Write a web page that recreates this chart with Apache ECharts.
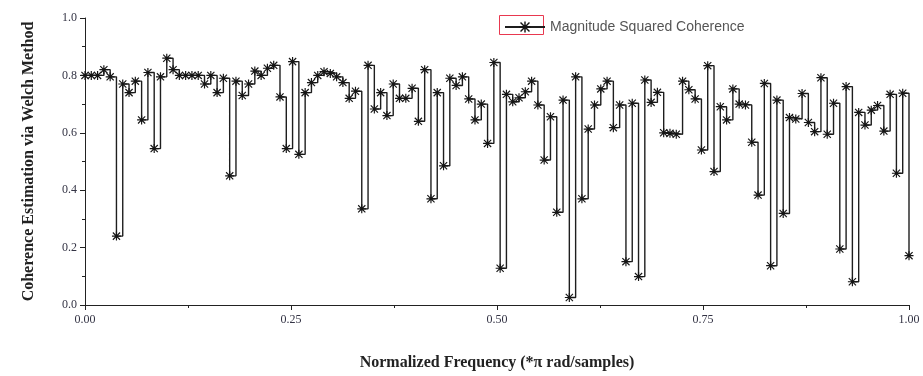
<!DOCTYPE html>
<html>
<head>
    <meta charset="utf-8">
    <title>Magnitude Squared Coherence</title>
    <script src="https://cdn.jsdelivr.net/npm/echarts@6/dist/echarts.min.js"></script>
    <style>
        body { margin: 0; background: #fff; }
        #main { width: 923px; height: 376px; }
    </style>
</head>
<body>
<div id="main"></div>
<script type="text/javascript">
    // coherence values, one per frequency bin
    var coherence = [
        0.80, 0.80, 0.80, 0.82, 0.795, 0.24, 0.77, 0.74, 0.78, 0.645,
        0.81, 0.545, 0.795, 0.86, 0.82, 0.80, 0.80, 0.80, 0.80, 0.77,
        0.80, 0.74, 0.79, 0.45, 0.78, 0.73, 0.77, 0.815, 0.80, 0.825,
        0.835, 0.725, 0.545, 0.848, 0.525, 0.74, 0.775, 0.80, 0.813, 0.807,
        0.795, 0.775, 0.72, 0.745, 0.335, 0.835, 0.683, 0.74, 0.66, 0.77,
        0.72, 0.72, 0.755, 0.64, 0.82, 0.37, 0.74, 0.485, 0.79, 0.765,
        0.795, 0.718, 0.645, 0.70, 0.563, 0.845, 0.128, 0.734, 0.708, 0.722,
        0.743, 0.78, 0.697, 0.505, 0.656, 0.323, 0.714, 0.026, 0.795, 0.37,
        0.613, 0.697, 0.753, 0.78, 0.618, 0.697, 0.151, 0.703, 0.099, 0.784,
        0.706, 0.741, 0.60, 0.598, 0.595, 0.78, 0.75, 0.718, 0.54, 0.834,
        0.465, 0.691, 0.645, 0.753, 0.70, 0.697, 0.567, 0.383, 0.772, 0.137,
        0.714, 0.319, 0.653, 0.648, 0.737, 0.636, 0.604, 0.792, 0.595, 0.703,
        0.195, 0.761, 0.081, 0.671, 0.627, 0.679, 0.695, 0.606, 0.734, 0.459,
        0.738, 0.172
    ];
    var xTicks = ['0.00', '0.25', '0.50', '0.75', '1.00'];
    var yTicks = ['0.0', '0.2', '0.4', '0.6', '0.8', '1.0'];

    // bins are evenly spaced from 0 to 1 (*pi rad/sample)
    var points = [];
    for (var i = 0; i < coherence.length; i++) {
        points.push([i / (coherence.length - 1), coherence[i]]);
    }

    // asterisk marker (vertical, horizontal and two diagonal strokes)
    var star = 'path://M8.7 0L11.3 0L11.3 20L8.7 20Z M0 8.7L20 8.7L20 11.3L0 11.3Z ' +
        'M1.1 2.9L2.9 1.1L18.9 17.1L17.1 18.9Z M17.1 1.1L18.9 2.9L2.9 18.9L1.1 17.1Z';

    var serif = '"Liberation Serif", "Times New Roman", serif';
    var myChart = echarts.init(document.getElementById('main'));
    var option = {
        animation: false,
        backgroundColor: '#fff',
        grid: { left: 85, right: 14, top: 18, bottom: 71 },
        legend: {
            left: 499, top: 15,
            itemWidth: 40, itemHeight: 14, itemGap: 0,
            textStyle: { fontFamily: '"Liberation Sans", Arial, sans-serif', fontSize: 14, color: '#555' },
            data: ['Magnitude Squared Coherence']
        },
        graphic: [{
            type: 'rect',
            left: 497, top: 13,
            shape: { width: 44, height: 19 },
            style: { fill: 'none', stroke: '#e8384f', lineWidth: 1 }
        }],
        xAxis: {
            type: 'value',
            min: 0, max: 1, interval: 0.25,
            name: 'Normalized Frequency (*\u03c0 rad/samples)',
            nameLocation: 'middle', nameGap: 50,
            nameTextStyle: { fontFamily: serif, fontWeight: 'bold', fontSize: 16, color: '#222' },
            axisLine: { lineStyle: { color: '#222', width: 1 } },
            axisTick: { inside: false, length: 5, lineStyle: { color: '#222' } },
            minorTick: { show: true, splitNumber: 2, length: 3, lineStyle: { color: '#222' } },
            splitLine: { show: false },
            axisLabel: {
                margin: 9,
                fontFamily: serif, fontSize: 12, color: '#334',
                formatter: function (v) { return xTicks[Math.round(v / 0.25)]; }
            }
        },
        yAxis: {
            type: 'value',
            min: 0, max: 1, interval: 0.2,
            name: 'Coherence Estimation via Welch Method',
            nameLocation: 'middle', nameGap: 48,
            nameTextStyle: { fontFamily: serif, fontWeight: 'bold', fontSize: 16, color: '#222' },
            axisLine: { show: true, lineStyle: { color: '#222', width: 1 } },
            axisTick: { show: true, length: 5, lineStyle: { color: '#222' } },
            minorTick: { show: true, splitNumber: 2, length: 3, lineStyle: { color: '#222' } },
            splitLine: { show: false },
            axisLabel: {
                margin: 8,
                fontFamily: serif, fontSize: 12, color: '#334',
                formatter: function (v) { return yTicks[Math.round(v / 0.2)]; }
            }
        },
        series: [{
            name: 'Magnitude Squared Coherence',
            type: 'line',
            step: 'end',
            data: points,
            symbol: star,
            symbolSize: 9,
            showAllSymbol: true,
            itemStyle: { color: '#151515' },
            lineStyle: { color: '#1e1e1e', width: 1.4 }
        }]
    };
    myChart.setOption(option);
</script>
</body>
</html>
